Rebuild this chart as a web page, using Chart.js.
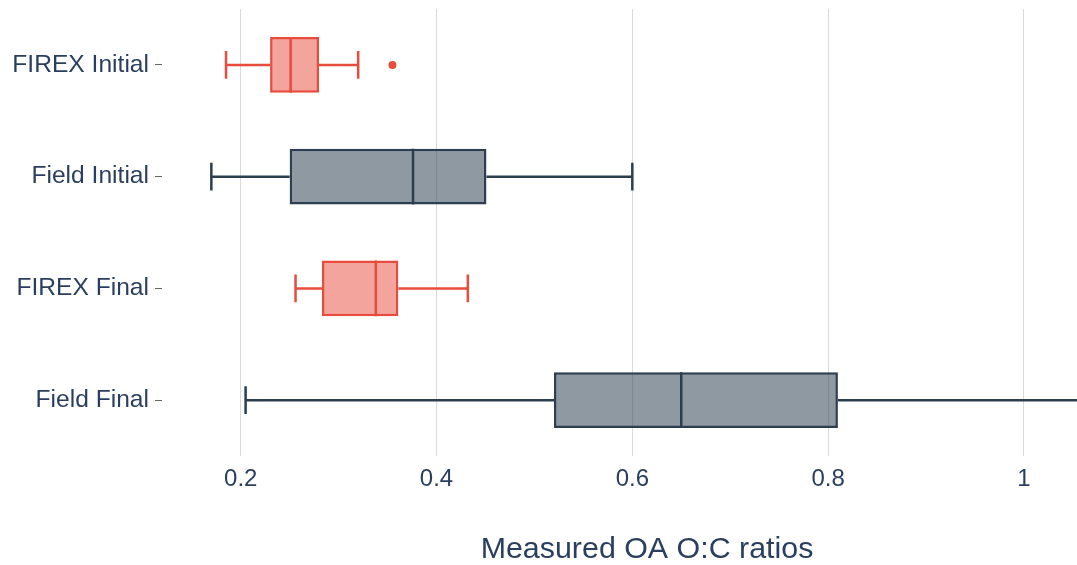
<!DOCTYPE html>
<html>
<head>
<meta charset="utf-8">
<script src="https://cdn.jsdelivr.net/npm/chart.js@4/dist/chart.umd.min.js"></script>
<style>
  html, body { margin: 0; padding: 0; background: #fff; overflow: hidden; }
  #wrap { position: absolute; left: 0; top: 0; width: 1132px; height: 565px; }
</style>
</head>
<body>
<div id="wrap"><canvas id="chart"></canvas></div>
<script>
// box plot values, top to bottom
const categories = ['FIREX Initial', 'Field Initial', 'FIREX Final', 'Field Final'];
const lowerWhisker = [0.185, 0.170, 0.256, 0.205];
const q1 = [0.230, 0.250, 0.283, 0.520];
const median = [0.251, 0.376, 0.338, 0.650];
const q3 = [0.280, 0.451, 0.361, 0.810];
const upperWhisker = [0.320, 0.600, 0.432, 1.060];
const outliers = [[0.355], [], [], []];
const xTicks = [0.2, 0.4, 0.6, 0.8, 1.0];

const RED = '#e74c3c';
const DARK = '#2c3e50';
const lineColors = categories.map(c => c.startsWith('FIREX') ? RED : DARK);
const fillColors = categories.map(c => c.startsWith('FIREX') ? 'rgba(231, 76, 60, 0.5)' : 'rgba(44, 62, 80, 0.53)');
const textColor = '#2a3f5f';
const font = 'Liberation Sans, Arial, Helvetica, sans-serif';

// whiskers, medians and outliers drawn over the floating bars
const boxExtras = {
  id: 'boxExtras',
  afterDatasetsDraw(chart) {
    const ctx = chart.ctx;
    const x = chart.scales.x;
    const y = chart.scales.y;
    const meta = chart.getDatasetMeta(0);
    ctx.save();
    ctx.lineWidth = 2.5;
    categories.forEach((cat, i) => {
      const bar = meta.data[i];
      const h = bar.height;
      const cy = y.getPixelForValue(i);
      const col = lineColors[i];
      ctx.strokeStyle = col;
      ctx.fillStyle = col;
      const xl = x.getPixelForValue(lowerWhisker[i]);
      const x1 = x.getPixelForValue(q1[i]);
      const x3 = x.getPixelForValue(q3[i]);
      const xu = x.getPixelForValue(upperWhisker[i]);
      const xm = x.getPixelForValue(median[i]);
      ctx.beginPath();
      ctx.moveTo(xl, cy); ctx.lineTo(x1, cy);
      ctx.moveTo(x3, cy); ctx.lineTo(xu, cy);
      ctx.moveTo(xl, cy - h / 4); ctx.lineTo(xl, cy + h / 4);
      ctx.moveTo(xu, cy - h / 4); ctx.lineTo(xu, cy + h / 4);
      ctx.moveTo(xm, cy - h / 2); ctx.lineTo(xm, cy + h / 2);
      ctx.stroke();
      outliers[i].forEach(v => {
        ctx.beginPath();
        ctx.arc(x.getPixelForValue(v), cy, 4, 0, Math.PI * 2);
        ctx.fill();
      });
    });
    ctx.restore();
  }
};

new Chart(document.getElementById('chart'), {
  type: 'bar',
  data: {
    labels: categories,
    datasets: [{
      data: categories.map((c, i) => [q1[i], q3[i]]),
      backgroundColor: fillColors,
      borderColor: lineColors,
      borderWidth: 2.5,
      borderSkipped: false,
      categoryPercentage: 1,
      barPercentage: 0.5
    }]
  },
  options: {
    indexAxis: 'y',
    responsive: true,
    maintainAspectRatio: false,
    animation: false,
    layout: { padding: { top: 9, left: 0, right: 0, bottom: 0 } },
    plugins: {
      legend: { display: false },
      tooltip: { enabled: false }
    },
    scales: {
      x: {
        type: 'linear',
        min: 0.1196,
        max: 1.1104,
        border: { display: false },
        grid: { color: '#dadada', lineWidth: 1, drawTicks: false },
        afterBuildTicks: scale => { scale.ticks = xTicks.map(v => ({ value: v })); },
        afterFit: scale => { scale.height = 109; },
        ticks: {
          color: textColor,
          font: { family: font, size: 24 },
          padding: 9,
          maxRotation: 0,
          callback: v => String(v)
        },
        title: {
          display: true,
          text: 'Measured OA O:C ratios',
          color: textColor,
          font: { family: font, size: 30.4 },
          padding: { top: 0, bottom: -3 }
        }
      },
      y: {
        border: { display: false },
        grid: {
          display: true,
          offset: false,
          drawOnChartArea: false,
          drawTicks: true,
          tickLength: 7,
          tickColor: '#666',
          tickWidth: 1
        },
        afterFit: scale => {
          scale.width = 162;
          scale.paddingTop = 0;
          scale.paddingBottom = 0;
        },
        ticks: {
          color: textColor,
          font: { family: font, size: 24.6 },
          padding: 6
        }
      }
    }
  },
  plugins: [boxExtras]
});
</script>
</body>
</html>
